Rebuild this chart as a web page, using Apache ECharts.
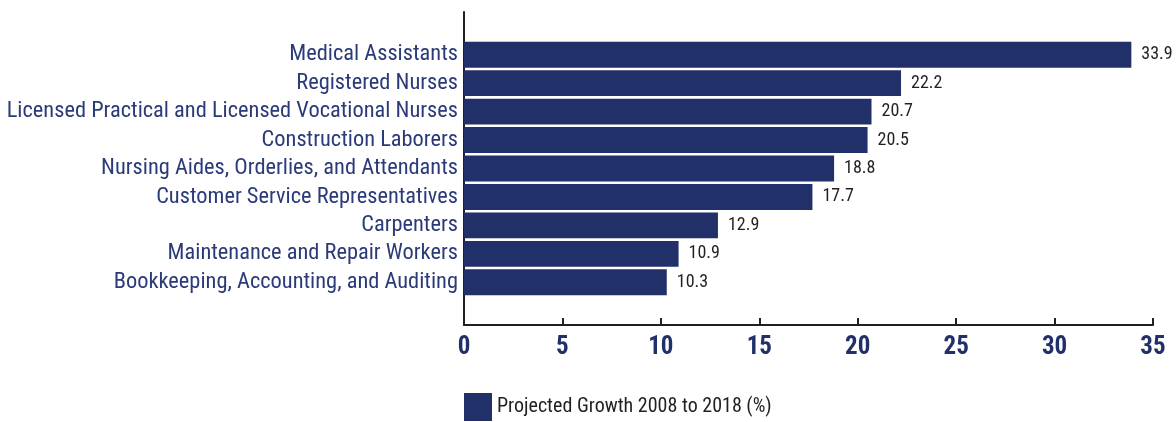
<!DOCTYPE html>
<html><head><meta charset="utf-8">
<script src="https://cdn.jsdelivr.net/npm/echarts@6/dist/echarts.min.js"></script>
<style>html,body{margin:0;padding:0;background:#fff}#c{width:1176px;height:422px}</style>
</head><body><div id="c"></div>
<script>
const categories = ["Medical Assistants","Registered Nurses","Licensed Practical and Licensed Vocational Nurses","Construction Laborers","Nursing Aides, Orderlies, and Attendants","Customer Service Representatives","Carpenters","Maintenance and Repair Workers","Bookkeeping, Accounting, and Auditing"];
const growth = [33.9,22.2,20.7,20.5,18.8,17.7,12.9,10.9,10.3];
const seriesName = "Projected Growth 2008 to 2018 (%)";
const xTicks = [0,5,10,15,20,25,30,35];

const FONT = '"Liberation Sans Narrow","Arial Narrow","Roboto Condensed",Roboto,sans-serif';
// pad with one blank band above and below to leave space along the axis
const cats = [""].concat(categories, [""]);
const vals = [null].concat(growth, [null]);

const chart = echarts.init(document.getElementById('c'));
chart.setOption({
  animation:false,
  grid:{left:464,right:23,top:12,bottom:97,containLabel:false},
  legend:{
    data:[seriesName], left:464, top:393, padding:0, itemWidth:28, itemHeight:28, itemGap:8,
    textStyle:{fontFamily:FONT,fontSize:20,color:'#231f20'}, icon:'rect', selectedMode:false
  },
  xAxis:{
    type:'value', min:0, max:35, interval:5,
    axisLine:{show:true,lineStyle:{color:'#231f20',width:2}},
    axisTick:{show:true,inside:true,length:7,lineStyle:{color:'#231f20',width:2}},
    splitLine:{show:false},
    axisLabel:{fontFamily:FONT,fontWeight:'bold',fontSize:25,color:'#22306a',margin:10,
      formatter:v=>xTicks.includes(v)?String(v):''}
  },
  yAxis:{
    type:'category', inverse:true, data:cats,
    axisLine:{show:true,lineStyle:{color:'#231f20',width:2}},
    axisTick:{show:false},
    axisLabel:{interval:0,fontFamily:FONT,fontSize:22.4,color:'#2b3a78',margin:6}
  },
  series:[{
    name:seriesName, type:'bar', data:vals, barCategoryGap:'9%',
    itemStyle:{color:'#22306a'},
    label:{show:true,position:'right',distance:10,fontFamily:FONT,fontSize:18,color:'#231f20',
      formatter:p=>p.value.toFixed(1)}
  }]
});
</script></body></html>
